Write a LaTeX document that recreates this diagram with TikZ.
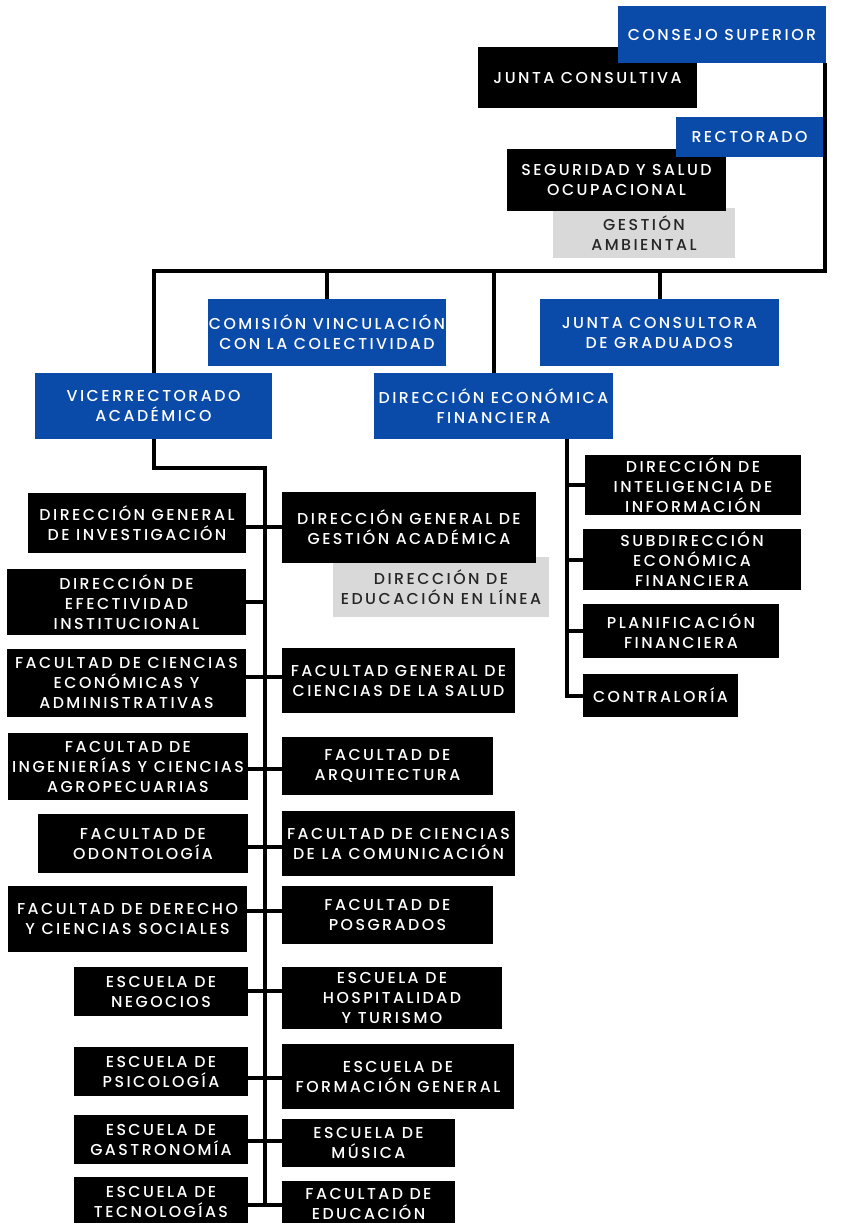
\documentclass[tikz,border=0pt]{standalone}
\usepackage{fontspec}
\newfontfamily\orgfont{Poppins Medium}[LetterSpace=15.5]
\usetikzlibrary{backgrounds}
\definecolor{orgblue}{RGB}{10,75,170}
\definecolor{orggray}{RGB}{217,217,217}
\tikzset{
  box/.style={rectangle,inner sep=0pt,outer sep=0pt,draw=none},
  bluebox/.style={fill=orgblue},
  blackbox/.style={fill=black},
  graybox/.style={fill=orggray},
  lbl/.style={align=center,inner sep=0pt,font=\orgfont\fontsize{15.8}{20}\selectfont},
  bluetxt/.style={text=white},
  blacktxt/.style={text=white},
  graytxt/.style={text=black!85},
  link/.style={line width=4pt,draw=black}
}
% kind, name, left, top, right, bottom, label
\newcommand\obox[7]{%
  \node[box,#1box,minimum width={#5-#3},minimum height={#6-#4}] (#2) at ({(#3+#5)/2},{(#4+#6)/2}) {};
  \node[lbl,#1txt] (#2-t) at (#2.center) {#7};
}
\begin{document}
\begin{tikzpicture}[x=1pt,y=-1pt]
\useasboundingbox (0,0) rectangle (842,1223);
\clip (0,0) rectangle (842,1223);

% --- governing bodies
\obox{black}{jc}{478}{47}{697}{108}{JUNTA CONSULTIVA}
\obox{blue}{cs}{618}{6}{826}{63}{CONSEJO SUPERIOR}
\obox{gray}{ga}{553}{208}{735}{258}{GESTIÓN\\AMBIENTAL}
\obox{black}{sso}{507}{149}{726}{211}{SEGURIDAD Y SALUD\\OCUPACIONAL}
\obox{blue}{rec}{676}{117}{823}{157}{RECTORADO}

% --- second level
\obox{blue}{cvc}{208}{299}{446}{366}{COMISIÓN VINCULACIÓN\\CON LA COLECTIVIDAD}
\obox{blue}{jcg}{540}{299}{779}{366}{JUNTA CONSULTORA\\DE GRADUADOS}
\obox{blue}{vra}{35}{373}{272}{439}{VICERRECTORADO\\ACADÉMICO}
\obox{blue}{def}{374}{373}{613}{439}{DIRECCIÓN ECONÓMICA\\FINANCIERA}

% --- financial branch
\obox{black}{dii}{585}{455}{801}{515}{DIRECCIÓN DE\\INTELIGENCIA DE\\INFORMACIÓN}
\obox{black}{sef}{583}{529}{801}{590}{SUBDIRECCIÓN\\ECONÓMICA\\FINANCIERA}
\obox{black}{plf}{583}{604}{779}{658}{PLANIFICACIÓN\\FINANCIERA}
\obox{black}{ctr}{583}{674}{738}{717}{CONTRALORÍA}

% --- academic branch, left column
\obox{black}{dgi}{28}{493}{246}{553}{DIRECCIÓN GENERAL\\DE INVESTIGACIÓN}
\obox{black}{dei}{7}{569}{246}{635}{DIRECCIÓN DE\\EFECTIVIDAD\\INSTITUCIONAL}
\obox{black}{fce}{7}{649}{246}{717}{FACULTAD DE CIENCIAS\\ECONÓMICAS Y\\ADMINISTRATIVAS}
\obox{black}{fia}{8}{733}{248}{800}{FACULTAD DE\\INGENIERÍAS Y CIENCIAS\\AGROPECUARIAS}
\obox{black}{fod}{38}{814}{248}{873}{FACULTAD DE\\ODONTOLOGÍA}
\obox{black}{fdc}{8}{886}{247}{952}{FACULTAD DE DERECHO\\Y CIENCIAS SOCIALES}
\obox{black}{eng}{74}{967}{248}{1016}{ESCUELA DE\\NEGOCIOS}
\obox{black}{eps}{74}{1047}{248}{1096}{ESCUELA DE\\PSICOLOGÍA}
\obox{black}{egs}{74}{1115}{248}{1164}{ESCUELA DE\\GASTRONOMÍA}
\obox{black}{etc}{74}{1177}{248}{1227}{ESCUELA DE\\TECNOLOGÍAS}

% --- academic branch, right column
\obox{gray}{del}{333}{557}{549}{617}{DIRECCIÓN DE\\EDUCACIÓN EN LÍNEA}
\obox{black}{dga}{282}{492}{536}{563}{DIRECCIÓN GENERAL DE\\GESTIÓN ACADÉMICA}
\obox{black}{fcs}{282}{648}{515}{713}{FACULTAD GENERAL DE\\CIENCIAS DE LA SALUD}
\obox{black}{far}{282}{737}{493}{795}{FACULTAD DE\\ARQUITECTURA}
\obox{black}{fcc}{282}{811}{515}{876}{FACULTAD DE CIENCIAS\\DE LA COMUNICACIÓN}
\obox{black}{fpo}{282}{886}{493}{944}{FACULTAD DE\\POSGRADOS}
\obox{black}{eht}{282}{967}{502}{1029}{ESCUELA DE\\HOSPITALIDAD\\Y TURISMO}
\obox{black}{efg}{282}{1044}{514}{1109}{ESCUELA DE\\FORMACIÓN GENERAL}
\obox{black}{emu}{282}{1119}{455}{1167}{ESCUELA DE\\MÚSICA}
\obox{black}{fed}{282}{1181}{455}{1227}{FACULTAD DE\\EDUCACIÓN}

% --- junction points of the connectors
\coordinate (hbar) at (825,271);
\coordinate (atop) at (265,468);
\coordinate (abot) at (265,1205);
\coordinate (fsp) at (567,439);
\coordinate (r1) at (265,527);
\coordinate (r2) at (265,602);
\coordinate (r3) at (265,677);
\coordinate (r4) at (265,769);
\coordinate (r5) at (265,847);
\coordinate (r6) at (265,911);
\coordinate (r7) at (265,991);
\coordinate (r8) at (265,1078);
\coordinate (r9) at (265,1141);
\coordinate (r10) at (265,1205);

\begin{pgfonlayer}{background}
  % main bar
  \draw[link] ([xshift=-1pt]cs.south east) -- (hbar) -- (vra.north |- hbar) -- (vra.north);
  \draw[link] (cvc.north |- hbar) -- (cvc.north);
  \draw[link] (def.north |- hbar) -- (def.north);
  \draw[link] (jcg.north |- hbar) -- (jcg.north);
  % financial spine
  \draw[link] (def.south -| fsp) |- (ctr.west);
  \draw[link] (fsp |- dii.west) -- (dii.west);
  \draw[link] (fsp |- sef.west) -- (sef.west);
  \draw[link] (fsp |- plf.west) -- (plf.west);
  % academic spine
  \draw[link] (vra.south) |- (atop) -- (abot);
  \draw[link] (dgi.east |- r1) -- (dga.west |- r1);
  \draw[link] (dei.east |- r2) -- (r2);
  \draw[link] (fce.east |- r3) -- (fcs.west |- r3);
  \draw[link] (fia.east |- r4) -- (far.west |- r4);
  \draw[link] (fod.east |- r5) -- (fcc.west |- r5);
  \draw[link] (fdc.east |- r6) -- (fpo.west |- r6);
  \draw[link] (eng.east |- r7) -- (eht.west |- r7);
  \draw[link] (eps.east |- r8) -- (efg.west |- r8);
  \draw[link] (egs.east |- r9) -- (emu.west |- r9);
  \draw[link] (etc.east |- r10) -- (fed.west |- r10);
\end{pgfonlayer}
\end{tikzpicture}
\end{document}
